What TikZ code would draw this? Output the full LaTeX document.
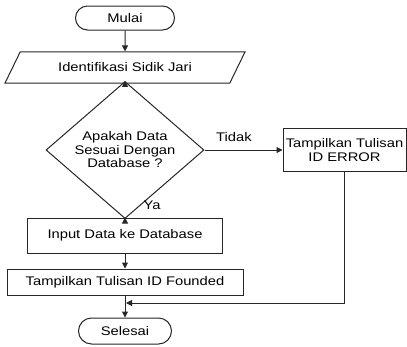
\documentclass[tikz,border=0pt]{standalone}
\usepackage{fontspec}
\setmainfont{Liberation Sans}[FakeStretch=1.18]
\usepackage{tikz}
\usetikzlibrary{arrows.meta, positioning, shapes}

\begin{document}
\begin{tikzpicture}[x=1pt,y=1pt,font=\fontsize{12.5}{13.5}\selectfont]
  \useasboundingbox (0,0) rectangle (407,-346);

  \tikzset{garis/.style={draw=black!85,line width=1pt}}
  \tikzset{terminal/.style={garis,rounded rectangle,inner sep=0pt}}
  \tikzset{proses/.style={garis,rectangle,inner sep=0pt,align=center}}
  \tikzset{masukan/.style={garis,trapezium,trapezium left angle=64,
      trapezium right angle=116,inner xsep=38pt,inner ysep=11pt}}
  \tikzset{keputusan/.style={garis,diamond,inner sep=0pt,align=center}}
  \tikzset{panah/.style={garis,-{Triangle[length=6pt,width=6pt]}}}

  \node[terminal,minimum width=99,minimum height=24] (mulai) at (125,-18) {Mulai};
  \node[masukan] (sidik) at (125,-67.5) {Identifikasi Sidik Jari};
  \node[keputusan,minimum width=158,minimum height=102] (cek) at (125,-150)
    {Apakah Data\\Sesuai Dengan\\Database ?};
  \node[proses,minimum width=123,minimum height=43] (error) at (344.5,-150)
    {Tampilkan Tulisan\\ID ERROR};
  \node[proses,minimum width=195,minimum height=35] (input) at (125,-235.5) {Input Data ke Database};
  \node[proses,minimum width=236,minimum height=26] (founded) at (125,-282) {Tampilkan Tulisan ID Founded};
  \node[terminal,minimum width=93,minimum height=26] (selesai) at (125,-331) {Selesai};

  \node (tidak) at (234,-137) {Tidak};
  \node (ya) at (152,-205) {Ya};
  \coordinate (gabung) at (126,-303);

  \draw[panah] (mulai) -- (sidik);
  \draw[panah] (sidik) -- (cek);
  \draw[panah] (cek) -- (error);
  \draw[panah] (cek) -- (input);
  \draw[panah] (input) -- (founded);
  \draw[panah] (founded) -- (selesai);
  \draw[panah] (error.south) |- (gabung);
\end{tikzpicture}
\end{document}
